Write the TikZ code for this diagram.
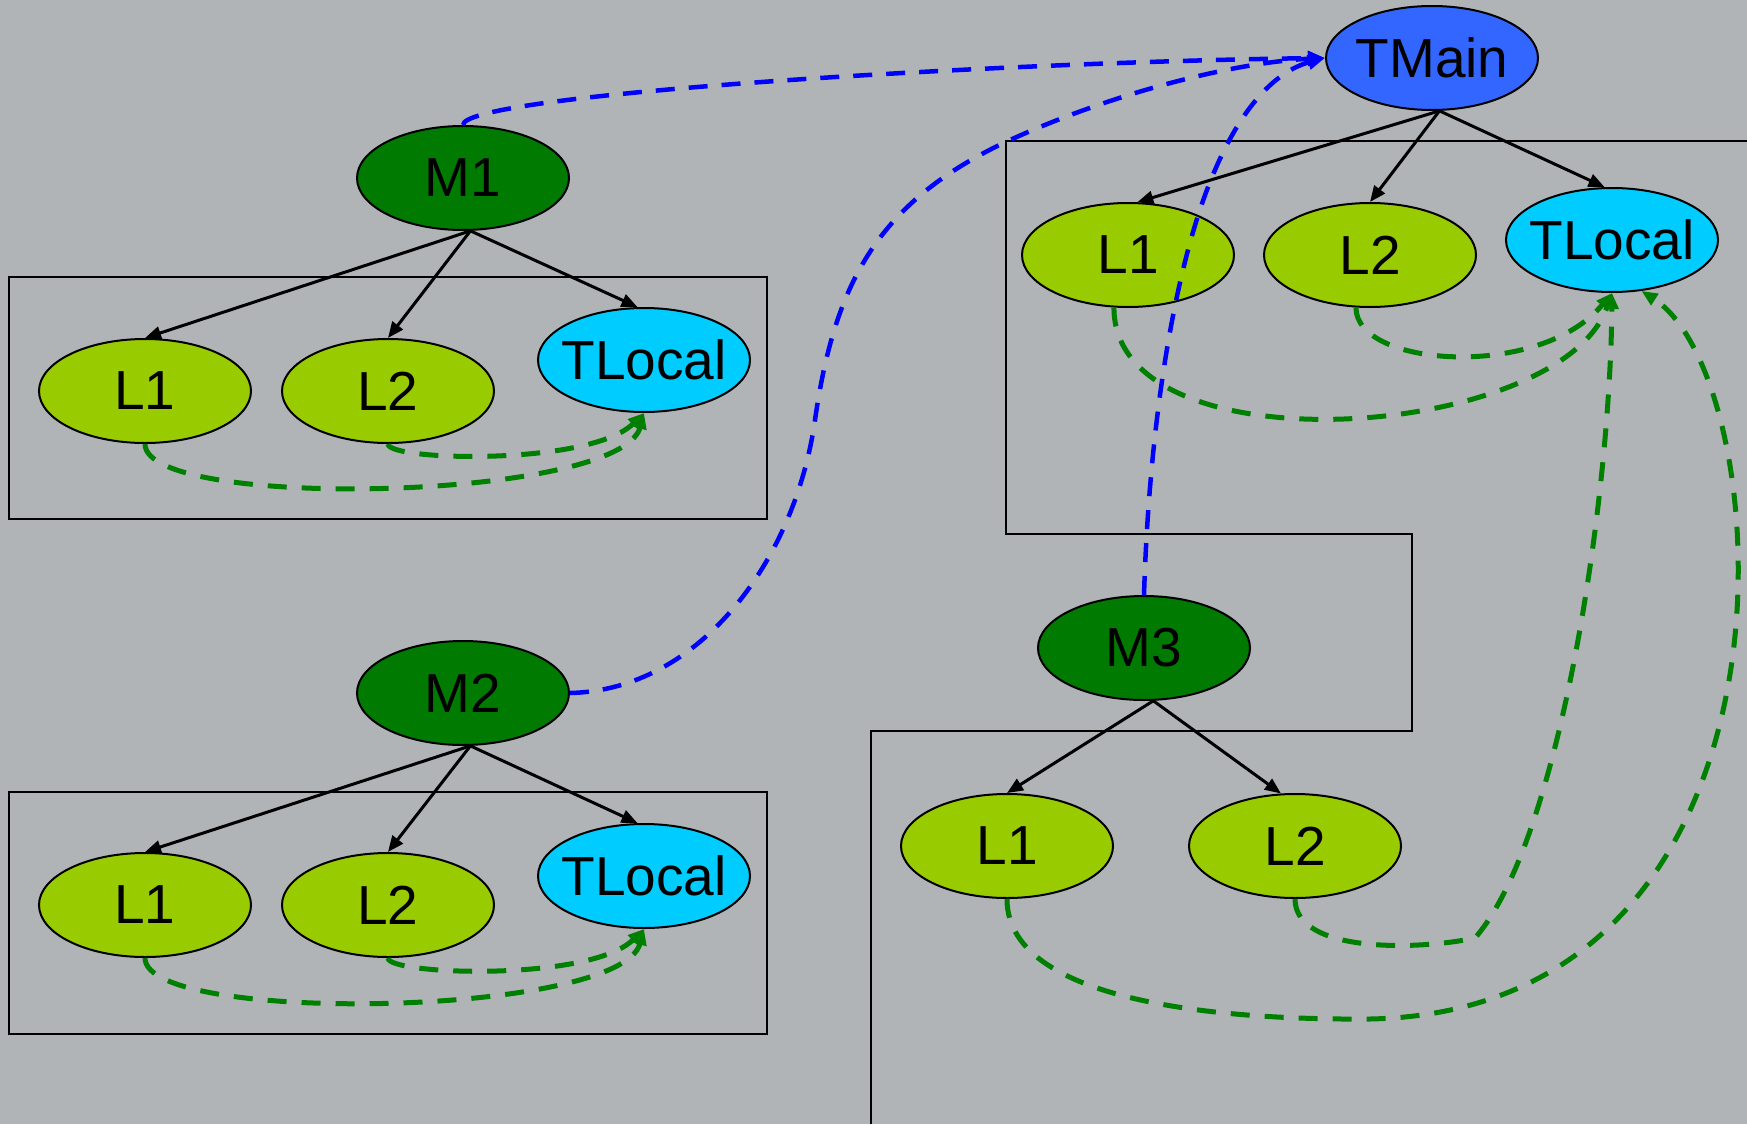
\documentclass[tikz,border=0pt]{standalone}
\usepackage{fontspec}
\setmainfont{Liberation Sans}
\usetikzlibrary{arrows.meta,shapes.geometric}

\definecolor{grund}{RGB}{176,180,183}
\definecolor{hauptfarbe}{RGB}{51,102,255}
\definecolor{modulfarbe}{RGB}{0,122,0}
\definecolor{lokalfarbe}{RGB}{153,204,0}
\definecolor{tlokalfarbe}{RGB}{0,204,255}
\definecolor{zugriffgruen}{RGB}{0,128,0}

\tikzset{
	knoten/.style={ellipse,draw,line width=2pt,minimum width=212pt,minimum height=104pt,inner xsep=-40pt,inner ysep=0pt,font=\fontsize{55}{60}\selectfont},
	hauptknoten/.style={knoten,fill=hauptfarbe},
	modulknoten/.style={knoten,fill=modulfarbe},
	lokknoten/.style={knoten,fill=lokalfarbe},
	tlokknoten/.style={knoten,fill=tlokalfarbe},
	rahmen/.style={line width=1.8pt},
	kante/.style={-{Triangle[length=16pt,width=13pt]},line width=3pt},
	ruf/.style={-{Triangle[length=17pt,width=14pt]},line width=4.5pt,dash pattern=on 19pt off 14pt,blue},
	zugriff/.style={-{Triangle[length=16pt,width=13pt]},line width=5pt,dash pattern=on 19pt off 15pt,zugriffgruen}
}

\begin{document}
\begin{tikzpicture}[x=1pt,y=-1pt]
	\fill[grund] (0,0) rectangle (1747,1124);
	\useasboundingbox (0,0) rectangle (1747,1124);
	% Rahmen
		\draw[rahmen] (9,277) rectangle (767,519);
		\draw[rahmen] (9,792) rectangle (767,1034);
		\draw[rahmen] (1747,141) -- (1006,141) -- (1006,534) -- (1412,534) -- (1412,731) -- (871,731) -- (871,1124);
	% Knoten
		\node (tmain) at (1432,58) [hauptknoten] {TMain};
		\node (m1) at (463,178) [modulknoten] {M1};
		\node (m2) at (463,693) [modulknoten] {M2};
		\node (m3) at (1144,648) [modulknoten] {M3};
		\node (l1a) at (145,391) [lokknoten] {L1};
		\node (l2a) at (388,391) [lokknoten] {L2};
		\node (tla) at (644,360) [tlokknoten] {TLocal};
		\node (l1b) at (145,905) [lokknoten] {L1};
		\node (l2b) at (388,905) [lokknoten] {L2};
		\node (tlb) at (644,876) [tlokknoten] {TLocal};
		\node (l1c) at (1128,255) [lokknoten] {L1};
		\node (l2c) at (1370,255) [lokknoten] {L2};
		\node (tlc) at (1612,240) [tlokknoten] {TLocal};
		\node (l1d) at (1007,846) [lokknoten] {L1};
		\node (l2d) at (1295,846) [lokknoten] {L2};
	% Kanten
		\draw[kante] (m1.-82) -- (l1a.north);
		\draw[kante] (m1.-82) -- (l2a.north);
		\draw[kante] (m1.-82) -- (tla.97);
		\draw[kante] (m2.-82) -- (l1b.north);
		\draw[kante] (m2.-82) -- (l2b.north);
		\draw[kante] (m2.-82) -- (tlb.97);
		\draw[kante] (tmain.-82) -- (l1c.80);
		\draw[kante] (tmain.-82) -- (l2c.north);
		\draw[kante] (tmain.-82) -- (tlc.98);
		\draw[kante] (m3.-80) -- (l1d.north);
		\draw[kante] (m3.-80) -- (l2d.105);
	% Zugriffe
		\draw[zugriff] (l1a.south) .. controls +(0,67) and +(-24,88) .. (tla.south);
		\draw[zugriff] (l2a.south) .. controls +(0,17) and +(-54,53) .. (tla.south);
		\draw[zugriff] (l1b.south) .. controls +(0,67) and +(-24,88) .. (tlb.south);
		\draw[zugriff] (l2b.south) .. controls +(0,17) and +(-54,53) .. (tlb.south);
		\draw[zugriff] (l1c.255) .. controls +(0,165) and (1560,440) .. (tlc.south);
		\draw[zugriff] (l2c.255) .. controls +(0,60) and (1540,380) .. (tlc.south);
		\draw[zugriff] (l2d.south) .. controls +(0,55) and (1420,950) .. (1475,938) .. controls (1560,840) and (1610,500) .. (tlc.south);
		\draw[zugriff] (l1d.south) .. controls +(0,110) and (1250,1020) .. (1370,1019) .. controls (1820,1010) and (1780,380) .. (tlc.-60);
	% Aufrufe
		\draw[ruf] (m1.north) .. controls +(0,-31) and (1000,62) .. (tmain.west);
		\draw[ruf] (m2.east) .. controls (700,690) and (795,560) .. (815,420) .. controls (835,280) and (880,200) .. (1010,140) .. controls (1120,90) and (1240,62) .. (tmain.west);
		\draw[ruf] (m3.north) .. controls (1150,400) and (1180,250) .. (1215,170) .. controls (1245,100) and (1280,70) .. (tmain.west);
\end{tikzpicture}
\end{document}
